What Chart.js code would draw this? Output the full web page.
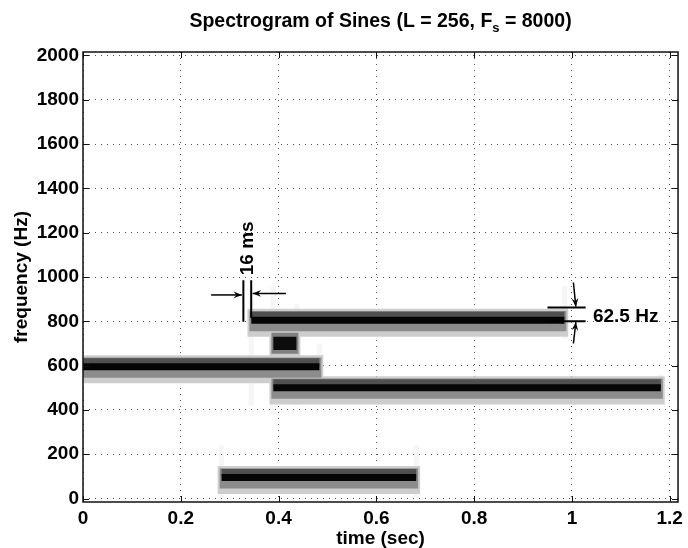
<!DOCTYPE html>
<html>
<head>
<meta charset="utf-8">
<script src="https://cdn.jsdelivr.net/npm/chart.js@4.4.1/dist/chart.umd.min.js"></script>
<style>
  html, body { margin: 0; padding: 0; background: #fff; }
</style>
</head>
<body>
<canvas id="myChart" width="688" height="548"></canvas>
<script>
// ejes
const X_TICKS = [0, 0.2, 0.4, 0.6, 0.8, 1, 1.2];
const X_LABELS = ['0', '0.2', '0.4', '0.6', '0.8', '1', '1.2'];
const Y_TICKS = [0, 200, 400, 600, 800, 1000, 1200, 1400, 1600, 1800, 2000];
const TIME_MAX = 1.217;
const FREQ_MIN = -15.625;
const FREQ_MAX = 2015.625;

// bandas del espectrograma (Hz y segundos)
const BAND_FREQ = [595, 805, 700, 500, 95];
const BAND_START = [0, 0.344, 0.389, 0.389, 0.283];
const BAND_END = [0.484, 0.985, 0.437, 1.182, 0.682];

// rayas verticales tenues en los cambios
const STREAK_TIME = [0.283, 0.682, 0.344, 0.389, 0.437, 0.484, 0.985, 1.182];
const STREAK_LOW = [0, 0, 420, 380, 420, 480, 720, 440];
const STREAK_HIGH = [240, 240, 900, 960, 880, 700, 960, 560];

(() => {
    const FONT = "'Liberation Sans', Arial, Helvetica, sans-serif";
    const myChart = document.getElementById('myChart').getContext('2d');

    // capas de gris para cada banda: desplazamiento en Hz arriba / abajo
    const LAYERS = [
        { top: 52, bottom: -75, pad: 0.008, color: '#cdcdcd', order: 8 },
        { top: 42, bottom: -50, pad: 0.004, color: '#8c8c8c', order: 7 },
        { top: 38, bottom: 0, pad: 0, color: '#505050', order: 6 },
        { top: 16, bottom: -16, pad: 0, color: '#050505', order: 5 }
    ];
    const SHORT_LAYERS = [
        { top: 62, bottom: -60, pad: 0.008, color: '#cacaca', order: 8 },
        { top: 48, bottom: -46, pad: 0.004, color: '#808080', order: 7 },
        { top: 30, bottom: -30, pad: 0, color: '#0c0c0c', order: 5 }
    ];

    const datasets = [];
    STREAK_TIME.forEach((t, i) => {
        datasets.push({
            data: [{ x: t - 0.006, y: STREAK_HIGH[i] }, { x: t + 0.006, y: STREAK_HIGH[i] }],
            fill: { value: STREAK_LOW[i] },
            backgroundColor: 'rgba(0,0,0,0.035)',
            borderWidth: 0, pointRadius: 0, order: 20
        });
    });
    BAND_FREQ.forEach((f, i) => {
        const layers = (BAND_END[i] - BAND_START[i] < 0.1) ? SHORT_LAYERS : LAYERS;
        for (const L of layers) {
            const x0 = Math.max(0, BAND_START[i] - L.pad);
            const x1 = BAND_END[i] + L.pad;
            datasets.push({
                data: [{ x: x0, y: f + L.top }, { x: x1, y: f + L.top }],
                fill: { value: f + L.bottom },
                backgroundColor: L.color,
                borderWidth: 0, pointRadius: 0, order: L.order
            });
        }
    });

    const px = (c, v) => c.scales.x.getPixelForValue(v);
    const py = (c, v) => c.scales.y.getPixelForValue(v);

    // marco con marcas hacia adentro
    const framePlugin = {
        id: 'frame',
        afterDraw(chart) {
            const { ctx, chartArea: a } = chart;
            ctx.save();
            ctx.strokeStyle = '#111';
            ctx.lineWidth = 1.5;
            ctx.strokeRect(a.left, a.top, a.right - a.left, a.bottom - a.top);
            ctx.lineWidth = 1;
            ctx.beginPath();
            for (const v of X_TICKS) {
                const xx = Math.round(px(chart, v)) + 0.5;
                ctx.moveTo(xx, a.bottom); ctx.lineTo(xx, a.bottom - 6);
                ctx.moveTo(xx, a.top); ctx.lineTo(xx, a.top + 6);
            }
            for (const v of Y_TICKS) {
                const yy = Math.round(py(chart, v)) + 0.5;
                ctx.moveTo(a.left, yy); ctx.lineTo(a.left + 6, yy);
                ctx.moveTo(a.right, yy); ctx.lineTo(a.right - 6, yy);
            }
            ctx.stroke();
            ctx.restore();
        }
    };

    const arrow = (ctx, x0, y0, x1, y1) => {
        ctx.beginPath();
        ctx.moveTo(x0, y0); ctx.lineTo(x1, y1);
        ctx.stroke();
        const ang = Math.atan2(y1 - y0, x1 - x0);
        const len = 9, w = 0.38;
        ctx.beginPath();
        ctx.moveTo(x1, y1);
        ctx.lineTo(x1 - len * Math.cos(ang - w), y1 - len * Math.sin(ang - w));
        ctx.lineTo(x1 - len * 0.6 * Math.cos(ang), y1 - len * 0.6 * Math.sin(ang));
        ctx.lineTo(x1 - len * Math.cos(ang + w), y1 - len * Math.sin(ang + w));
        ctx.closePath();
        ctx.fill();
    };

    // titulo y anotaciones
    const notesPlugin = {
        id: 'notes',
        afterDraw(chart) {
            const { ctx, chartArea: a } = chart;
            ctx.save();
            ctx.fillStyle = '#000';
            ctx.strokeStyle = '#000';

            // titulo con subindice
            const big = 'bold 19.5px ' + FONT, small = 'bold 13px ' + FONT;
            const p1 = 'Spectrogram of Sines (L = 256, F', p2 = 's', p3 = ' = 8000)';
            ctx.font = big; const w1 = ctx.measureText(p1).width, w3 = ctx.measureText(p3).width;
            ctx.font = small; const w2 = ctx.measureText(p2).width;
            let tx = (a.left + a.right) / 2 - (w1 + w2 + w3) / 2;
            const ty = 27;
            ctx.textBaseline = 'alphabetic';
            ctx.textAlign = 'left';
            ctx.font = big; ctx.fillText(p1, tx, ty); tx += w1;
            ctx.font = small; ctx.fillText(p2, tx, ty + 5); tx += w2;
            ctx.font = big; ctx.fillText(p3, tx, ty);

            // 16 ms
            ctx.lineWidth = 2;
            ctx.beginPath();
            ctx.moveTo(px(chart, 0.328), py(chart, 798)); ctx.lineTo(px(chart, 0.328), py(chart, 985));
            ctx.moveTo(px(chart, 0.344), py(chart, 815)); ctx.lineTo(px(chart, 0.344), py(chart, 985));
            ctx.stroke();
            ctx.lineWidth = 1.5;
            arrow(ctx, px(chart, 0.262), py(chart, 919), px(chart, 0.325), py(chart, 919));
            arrow(ctx, px(chart, 0.415), py(chart, 926), px(chart, 0.347), py(chart, 926));
            ctx.save();
            ctx.translate(px(chart, 0.337), py(chart, 1008));
            ctx.rotate(-Math.PI / 2);
            ctx.font = 'bold 19px ' + FONT;
            ctx.textAlign = 'left';
            ctx.textBaseline = 'middle';
            ctx.fillText('16 ms', 0, 0);
            ctx.restore();

            // 62.5 Hz
            ctx.lineWidth = 2;
            ctx.beginPath();
            ctx.moveTo(px(chart, 0.950), py(chart, 862.5)); ctx.lineTo(px(chart, 1.028), py(chart, 862.5));
            ctx.moveTo(px(chart, 0.950), py(chart, 800)); ctx.lineTo(px(chart, 1.028), py(chart, 800));
            ctx.stroke();
            ctx.lineWidth = 1.5;
            arrow(ctx, px(chart, 1.003), py(chart, 975), px(chart, 1.008), py(chart, 866));
            arrow(ctx, px(chart, 1.003), py(chart, 700), px(chart, 1.008), py(chart, 796));
            ctx.font = 'bold 19px ' + FONT;
            ctx.textAlign = 'left';
            ctx.textBaseline = 'middle';
            ctx.fillText('62.5 Hz', px(chart, 1.043), py(chart, 822));
            ctx.restore();
        }
    };

    const grafica = new Chart(myChart, {
        type: 'line',
        data: { datasets: datasets },
        plugins: [framePlugin, notesPlugin],
        options: {
            responsive: false,
            animation: false,
            devicePixelRatio: 1,
            layout: { padding: { left: 0, right: 5, top: 52, bottom: 0 } },
            plugins: { legend: { display: false }, tooltip: { enabled: false }, title: { display: false } },
            scales: {
                x: {
                    type: 'linear',
                    min: 0,
                    max: TIME_MAX,
                    afterBuildTicks: (s) => { s.ticks = X_TICKS.map(v => ({ value: v })); },
                    afterFit: (s) => { s.height = 46; },
                    ticks: {
                        callback: (v) => X_LABELS[X_TICKS.indexOf(v)] ?? '',
                        color: '#000', padding: 5, maxRotation: 0, autoSkip: false,
                        font: { family: FONT, size: 19, weight: 'bold' }
                    },
                    grid: { color: '#555', lineWidth: 1, drawTicks: false },
                    border: { display: false, dash: [1, 5] },
                    title: {
                        display: true, text: 'time (sec)', color: '#000',
                        padding: { top: 0, bottom: 0 },
                        font: { family: FONT, size: 19, weight: 'bold', lineHeight: 1 }
                    }
                },
                y: {
                    type: 'linear',
                    min: FREQ_MIN,
                    max: FREQ_MAX,
                    afterBuildTicks: (s) => { s.ticks = Y_TICKS.map(v => ({ value: v })); },
                    afterFit: (s) => { s.width = 83; },
                    ticks: {
                        callback: (v) => String(v),
                        color: '#000', padding: 4, autoSkip: false,
                        font: { family: FONT, size: 19, weight: 'bold' }
                    },
                    grid: { color: '#555', lineWidth: 1, drawTicks: false },
                    border: { display: false, dash: [1, 5] },
                    title: {
                        display: true, text: 'frequency (Hz)', color: '#000',
                        padding: { top: 12, bottom: 0 },
                        font: { family: FONT, size: 19, weight: 'bold', lineHeight: 1 }
                    }
                }
            }
        }
    });
})();
</script>
</body>
</html>
